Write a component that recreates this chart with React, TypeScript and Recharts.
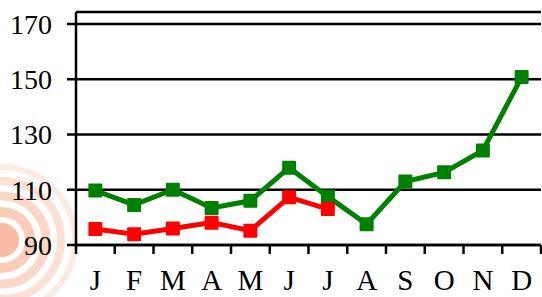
import { LineChart, Line, XAxis, YAxis, CartesianGrid } from 'recharts';

const months = ['J', 'F', 'M', 'A', 'M', 'J', 'J', 'A', 'S', 'O', 'N', 'D'];
const greenSeries = [109.7, 104.5, 110, 103.4, 106, 118, 107.5, 97.5, 113, 116.3, 124.2, 150.8];
const redSeries: (number | null)[] = [95.8, 93.9, 96, 98.1, 95.2, 107.3, 103, null, null, null, null, null];
const yTicks = [90, 110, 130, 150, 170];

const W = 542;
const H = 297;
const LEFT = 76;
const RIGHT = 1;
const XAXIS_H = 52;
const AXIS_Y = H - XAXIS_H;
const BAND = (W - LEFT - RIGHT) / months.length;
const FONT = '"Liberation Serif", "Times New Roman", serif';

const data = months.map((m, i) => ({ m, green: greenSeries[i], red: redSeries[i] }));

function SquareDot(color: string) {
  return (props: any) => {
    const { cx, cy, value } = props;
    if (value == null || cy == null) return null;
    return <rect x={cx - 7} y={cy - 7} width={14} height={14} fill={color} rx={1} />;
  };
}

// month label in the middle of its band, tick lines on the band edges
function MonthTick(props: any) {
  const { x, payload, index } = props;
  const left = x - BAND / 2;
  return (
    <g>
      <line x1={left} y1={AXIS_Y} x2={left} y2={AXIS_Y + 9} stroke="#000" strokeWidth={2.5} />
      {index === months.length - 1 && (
        <line x1={left + BAND} y1={AXIS_Y} x2={left + BAND} y2={AXIS_Y + 9} stroke="#000" strokeWidth={2.5} />
      )}
      <text x={x} y={AXIS_Y + 45} textAnchor="middle" fontSize={29} fontFamily={FONT} fill="#000">
        {payload.value}
      </text>
    </g>
  );
}

function Watermark() {
  const rings = [
    { r: 28, w: 10, c: '#f9cdb9' },
    { r: 44, w: 9, c: '#fad8c8' },
    { r: 59, w: 8, c: '#fbe1d5' },
    { r: 73, w: 6, c: '#fdebe3' },
  ];
  return (
    <svg width={W} height={H} style={{ position: 'absolute', left: 0, top: 0 }}>
      <circle cx={2} cy={240} r={17} fill="#f7bca2" />
      {rings.map((g) => (
        <circle key={g.r} cx={2} cy={240} r={g.r} fill="none" stroke={g.c} strokeWidth={g.w} />
      ))}
    </svg>
  );
}

export default function App() {
  return (
    <div style={{ position: 'absolute', left: 0, top: 0, width: W, height: H, background: '#fff' }}>
      <Watermark />
      <div style={{ position: 'absolute', left: 0, top: 0 }}>
        <LineChart width={W} height={H} data={data} margin={{ top: 12, right: RIGHT, bottom: 0, left: 0 }}>
          <CartesianGrid vertical={false} stroke="#000" strokeWidth={2.5} />
          <XAxis
            dataKey="m"
            interval={0}
            height={XAXIS_H}
            padding={{ left: BAND / 2, right: BAND / 2 }}
            tickLine={false}
            axisLine={{ stroke: '#000', strokeWidth: 2.5 }}
            tick={<MonthTick />}
          />
          <YAxis
            width={LEFT}
            domain={[90, 174.35]}
            ticks={yTicks}
            allowDataOverflow
            tickSize={9}
            tickMargin={15}
            tickLine={{ stroke: '#000', strokeWidth: 2.5 }}
            axisLine={{ stroke: '#000', strokeWidth: 2.5 }}
            tick={{ fill: '#000', fontSize: 28, fontFamily: FONT }}
          />
          <Line
            type="linear"
            dataKey="green"
            stroke="#008000"
            strokeWidth={5}
            dot={SquareDot('#008000')}
            activeDot={false}
            isAnimationActive={false}
          />
          <Line
            type="linear"
            dataKey="red"
            stroke="#ff0000"
            strokeWidth={5}
            dot={SquareDot('#ff0000')}
            activeDot={false}
            isAnimationActive={false}
          />
        </LineChart>
      </div>
    </div>
  );
}
